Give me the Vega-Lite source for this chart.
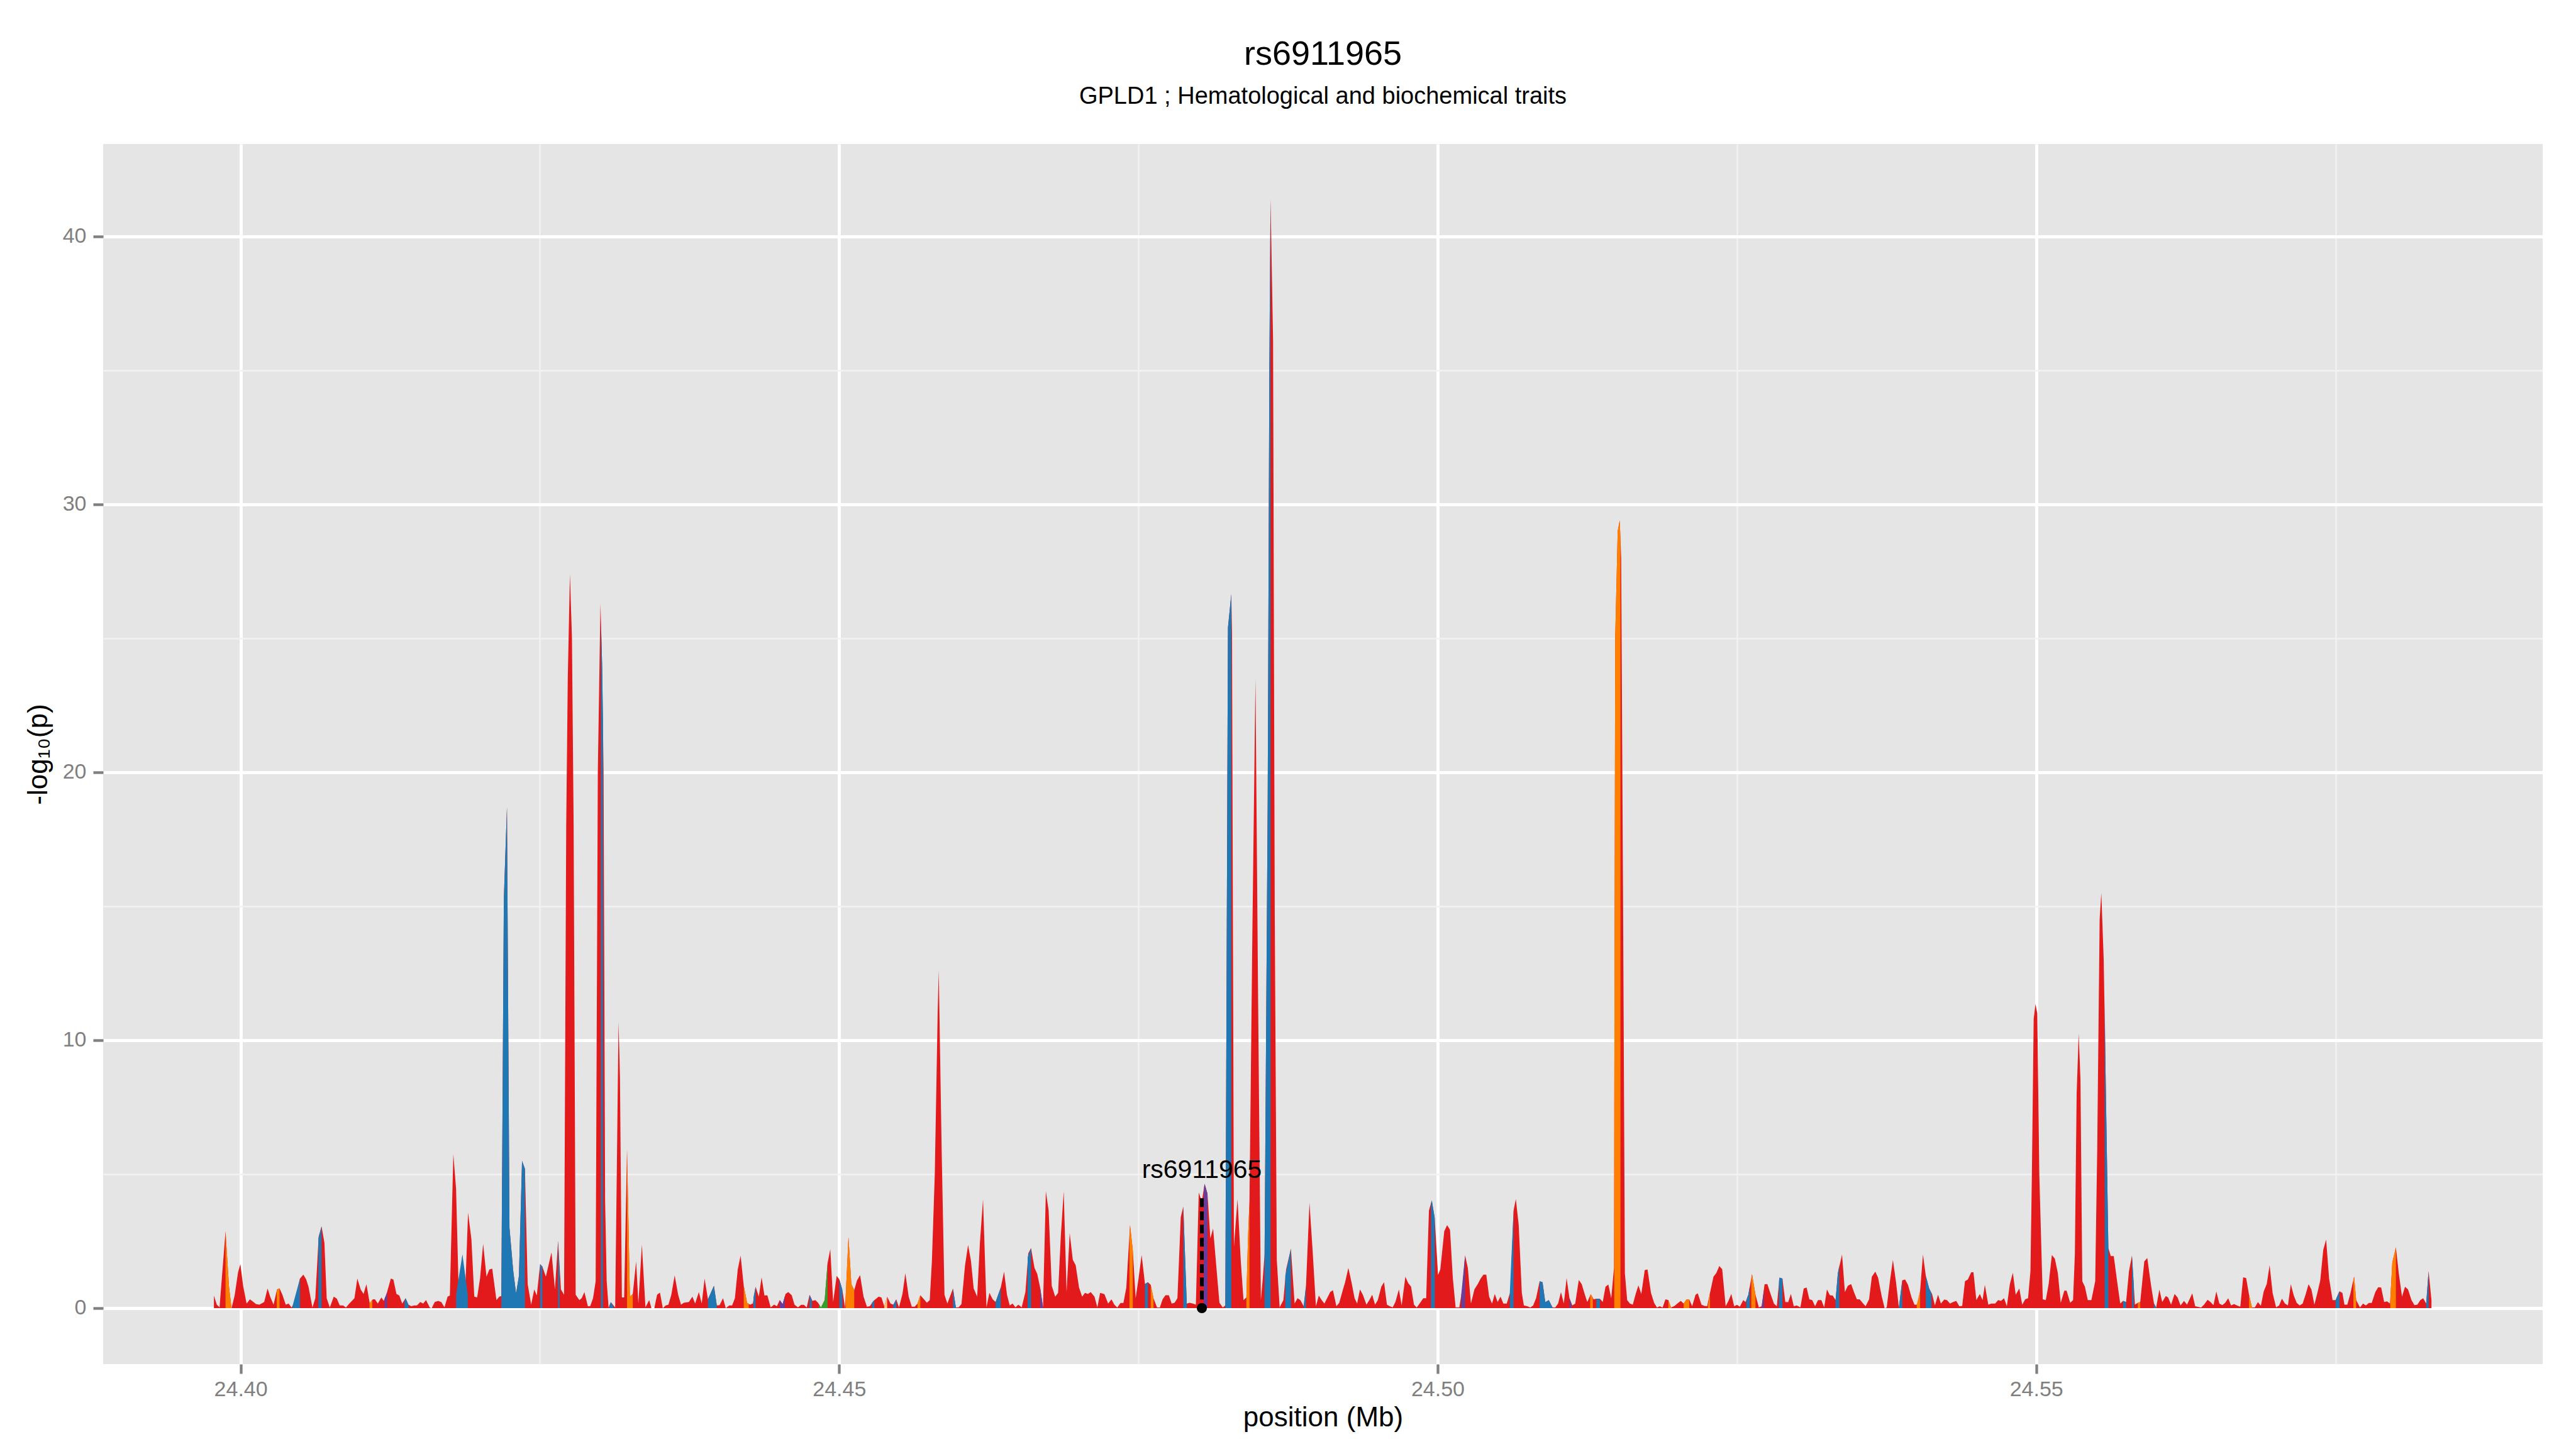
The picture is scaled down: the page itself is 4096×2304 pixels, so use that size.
{
"$schema": "https://vega.github.io/schema/vega-lite/v6.json",
"width": 3879,
"height": 1940,
"autosize": {"type": "none"},
"padding": {"left": 164, "top": 229, "right": 53, "bottom": 135},
"background": "#FFFFFF",
"title": {"text": "rs6911965", "subtitle": "GPLD1 ; Hematological and biochemical traits", "anchor": "middle", "font": "Liberation Sans", "fontSize": 54, "fontWeight": "normal", "color": "#000000", "subtitleFont": "Liberation Sans", "subtitleFontSize": 38, "subtitleColor": "#000000", "subtitlePadding": 21, "offset": 56},
"config": {"view": {"fill": "#E5E5E5", "stroke": null}, "font": "Liberation Sans"},
"datasets": {
"trace": [
{"pos":24.39777,"logp":0.47},{"pos":24.39801,"logp":0.13},{"pos":24.39824,"logp":0.03},{"pos":24.39841,"logp":1.0},{"pos":24.39874,"logp":2.87},{"pos":24.39903,"logp":0.8},{"pos":24.39924,"logp":0},{"pos":24.3995,"logp":0.47},{"pos":24.39979,"logp":1.35},{"pos":24.39998,"logp":1.64},{"pos":24.40021,"logp":0.83},{"pos":24.4005,"logp":0.17},{"pos":24.40078,"logp":0.33},{"pos":24.40109,"logp":0.22},{"pos":24.40128,"logp":0.15},{"pos":24.40157,"logp":0.13},{"pos":24.40197,"logp":0.23},{"pos":24.40225,"logp":0.73},{"pos":24.40247,"logp":0.43},{"pos":24.40275,"logp":0.13},{"pos":24.40304,"logp":0.69},{"pos":24.40325,"logp":0.74},{"pos":24.40349,"logp":0.5},{"pos":24.40377,"logp":0.13},{"pos":24.40401,"logp":0.17},{"pos":24.40425,"logp":0.02},{"pos":24.40453,"logp":0.23},{"pos":24.40496,"logp":1.1},{"pos":24.40524,"logp":1.25},{"pos":24.40548,"logp":1.07},{"pos":24.40567,"logp":0.8},{"pos":24.406,"logp":0.02},{"pos":24.40624,"logp":0.37},{"pos":24.40652,"logp":2.67},{"pos":24.40676,"logp":3.05},{"pos":24.407,"logp":2.44},{"pos":24.40719,"logp":0.37},{"pos":24.40745,"logp":0.02},{"pos":24.40778,"logp":0.43},{"pos":24.40804,"logp":0.35},{"pos":24.40828,"logp":0.1},{"pos":24.40856,"logp":0.1},{"pos":24.4088,"logp":0.02},{"pos":24.40908,"logp":0.17},{"pos":24.40951,"logp":0.37},{"pos":24.40975,"logp":1.1},{"pos":24.41003,"logp":0.7},{"pos":24.41027,"logp":0.53},{"pos":24.41051,"logp":0.89},{"pos":24.41079,"logp":0.17},{"pos":24.41105,"logp":0.33},{"pos":24.41122,"logp":0.33},{"pos":24.41146,"logp":0.17},{"pos":24.41176,"logp":0.4},{"pos":24.41195,"logp":0.27},{"pos":24.41217,"logp":0.5},{"pos":24.41255,"logp":1.1},{"pos":24.41276,"logp":1.07},{"pos":24.41302,"logp":0.53},{"pos":24.41326,"logp":0.47},{"pos":24.4135,"logp":0.17},{"pos":24.41378,"logp":0.37},{"pos":24.41402,"logp":0.13},{"pos":24.41426,"logp":0.07},{"pos":24.41449,"logp":0.1},{"pos":24.41473,"logp":0.1},{"pos":24.41501,"logp":0.23},{"pos":24.41525,"logp":0.17},{"pos":24.41549,"logp":0.3},{"pos":24.4158,"logp":0.02},{"pos":24.41596,"logp":0},{"pos":24.41622,"logp":0.23},{"pos":24.41651,"logp":0.27},{"pos":24.41677,"logp":0.22},{"pos":24.41703,"logp":0.03},{"pos":24.41729,"logp":0.43},{"pos":24.41748,"logp":0.47},{"pos":24.41777,"logp":5.75},{"pos":24.418,"logp":4.44},{"pos":24.41822,"logp":0.57},{"pos":24.41853,"logp":2.0},{"pos":24.41876,"logp":0.57},{"pos":24.419,"logp":3.57},{"pos":24.41928,"logp":2.57},{"pos":24.41952,"logp":0.43},{"pos":24.41976,"logp":0.4},{"pos":24.42,"logp":1.1},{"pos":24.42026,"logp":2.4},{"pos":24.42054,"logp":1.17},{"pos":24.42078,"logp":1.44},{"pos":24.42102,"logp":1.47},{"pos":24.42137,"logp":0.3},{"pos":24.42161,"logp":0.43},{"pos":24.42178,"logp":0.45},{"pos":24.42199,"logp":15.3},{"pos":24.42225,"logp":18.7},{"pos":24.42246,"logp":3.0},{"pos":24.42277,"logp":1.4},{"pos":24.42301,"logp":0.55},{"pos":24.42325,"logp":1.2},{"pos":24.42351,"logp":5.5},{"pos":24.42375,"logp":5.2},{"pos":24.42398,"logp":0.9},{"pos":24.42427,"logp":0.13},{"pos":24.42453,"logp":0.7},{"pos":24.42474,"logp":0.47},{"pos":24.42502,"logp":1.64},{"pos":24.42521,"logp":1.55},{"pos":24.4255,"logp":1.17},{"pos":24.42597,"logp":2.08},{"pos":24.42626,"logp":0.7},{"pos":24.42652,"logp":2.51},{"pos":24.42676,"logp":0.7},{"pos":24.42702,"logp":0.5},{"pos":24.4272,"logp":18.0},{"pos":24.42733,"logp":23.5},{"pos":24.42751,"logp":27.4},{"pos":24.42768,"logp":25.0},{"pos":24.42782,"logp":18.0},{"pos":24.42799,"logp":0.5},{"pos":24.4283,"logp":0.3},{"pos":24.42849,"logp":0.37},{"pos":24.42872,"logp":0.6},{"pos":24.42901,"logp":0.07},{"pos":24.4292,"logp":0.07},{"pos":24.42944,"logp":0.37},{"pos":24.42966,"logp":1.0},{"pos":24.42984,"logp":20.0},{"pos":24.43006,"logp":26.3},{"pos":24.4302,"logp":24.0},{"pos":24.43032,"logp":20.0},{"pos":24.43045,"logp":4.0},{"pos":24.43058,"logp":1.0},{"pos":24.43074,"logp":0.02},{"pos":24.43093,"logp":0.22},{"pos":24.43129,"logp":0.02},{"pos":24.43145,"logp":6.0},{"pos":24.43157,"logp":10.7},{"pos":24.43169,"logp":8.6},{"pos":24.43185,"logp":0.4},{"pos":24.43204,"logp":0.4},{"pos":24.43228,"logp":5.92},{"pos":24.43252,"logp":0.43},{"pos":24.43276,"logp":0.53},{"pos":24.43304,"logp":1.74},{"pos":24.43323,"logp":0.17},{"pos":24.43352,"logp":2.37},{"pos":24.43382,"logp":0.03},
{"pos":24.43413,"logp":0.3},{"pos":24.43432,"logp":0},{"pos":24.43456,"logp":0},{"pos":24.43479,"logp":0.5},{"pos":24.43503,"logp":0.58},{"pos":24.43527,"logp":0},{"pos":24.43551,"logp":0.1},{"pos":24.43574,"logp":0.13},{"pos":24.43598,"logp":0.5},{"pos":24.43626,"logp":1.22},{"pos":24.43655,"logp":0.5},{"pos":24.43679,"logp":0.13},{"pos":24.43702,"logp":0.2},{"pos":24.43745,"logp":0.23},{"pos":24.43774,"logp":0.43},{"pos":24.43797,"logp":0.17},{"pos":24.43828,"logp":0.6},{"pos":24.43852,"logp":0.17},{"pos":24.43876,"logp":1.1},{"pos":24.43904,"logp":0.33},{"pos":24.43954,"logp":0.83},{"pos":24.43978,"logp":0.1},{"pos":24.44001,"logp":0.11},{"pos":24.4403,"logp":0.37},{"pos":24.44053,"logp":0},{"pos":24.44082,"logp":0.1},{"pos":24.44106,"logp":0.1},{"pos":24.44129,"logp":0.37},{"pos":24.44153,"logp":1.44},{"pos":24.44177,"logp":1.96},{"pos":24.44203,"logp":0.83},{"pos":24.44231,"logp":0.2},{"pos":24.44255,"logp":0.13},{"pos":24.44279,"logp":0.17},{"pos":24.44302,"logp":0.8},{"pos":24.44329,"logp":0.43},{"pos":24.44352,"logp":1.15},{"pos":24.44376,"logp":0.47},{"pos":24.444,"logp":0.48},{"pos":24.44428,"logp":0.03},{"pos":24.44457,"logp":0.13},{"pos":24.4448,"logp":0.07},{"pos":24.44504,"logp":0.3},{"pos":24.44528,"logp":0.15},{"pos":24.44552,"logp":0.53},{"pos":24.44575,"logp":0.6},{"pos":24.44604,"logp":0.48},{"pos":24.44627,"logp":0.13},{"pos":24.44656,"logp":0.03},{"pos":24.44682,"logp":0.12},{"pos":24.44706,"logp":0.12},{"pos":24.44729,"logp":0.02},{"pos":24.44753,"logp":0.5},{"pos":24.44777,"logp":0.27},{"pos":24.44801,"logp":0.3},{"pos":24.44824,"logp":0.2},{"pos":24.44848,"logp":0.02},{"pos":24.44879,"logp":0.3},{"pos":24.44903,"logp":1.67},{"pos":24.44926,"logp":2.2},{"pos":24.4495,"logp":0.23},{"pos":24.44979,"logp":1.2},{"pos":24.45002,"logp":1.07},{"pos":24.45026,"logp":0.7},{"pos":24.4505,"logp":0},{"pos":24.45078,"logp":2.65},{"pos":24.45102,"logp":0.9},{"pos":24.45126,"logp":0.67},{"pos":24.45149,"logp":1.03},{"pos":24.45175,"logp":1.23},{"pos":24.45204,"logp":0.43},{"pos":24.45232,"logp":0.05},{"pos":24.45256,"logp":0.07},{"pos":24.45287,"logp":0.27},{"pos":24.4533,"logp":0.43},{"pos":24.45353,"logp":0.4},{"pos":24.45377,"logp":0.07},{"pos":24.45401,"logp":0.43},{"pos":24.45429,"logp":0.17},{"pos":24.45453,"logp":0.13},{"pos":24.45477,"logp":0.33},{"pos":24.455,"logp":0.03},{"pos":24.45529,"logp":0.53},{"pos":24.45553,"logp":1.3},{"pos":24.45581,"logp":0.43},{"pos":24.45607,"logp":0.05},{"pos":24.45631,"logp":0.05},{"pos":24.45655,"logp":0.17},{"pos":24.45678,"logp":0.48},{"pos":24.45709,"logp":0.33},{"pos":24.45733,"logp":0.2},{"pos":24.45757,"logp":0.3},{"pos":24.45775,"logp":1.77},{"pos":24.45799,"logp":5.0},{"pos":24.45823,"logp":11.0},{"pos":24.45832,"logp":12.6},{"pos":24.45856,"logp":6.0},{"pos":24.4588,"logp":0.5},{"pos":24.45904,"logp":0.17},{"pos":24.45951,"logp":0.73},{"pos":24.45975,"logp":0.03},{"pos":24.45998,"logp":0.03},{"pos":24.46022,"logp":0.15},{"pos":24.46051,"logp":1.57},{"pos":24.46077,"logp":2.36},{"pos":24.46101,"logp":1.77},{"pos":24.46124,"logp":0.73},{"pos":24.46153,"logp":0.43},{"pos":24.46176,"logp":2.44},{"pos":24.46202,"logp":4.06},{"pos":24.46231,"logp":0.03},{"pos":24.46255,"logp":0.57},{"pos":24.46283,"logp":0.33},{"pos":24.46307,"logp":0.23},{"pos":24.4635,"logp":0.77},{"pos":24.46378,"logp":1.36},{"pos":24.46402,"logp":0.5},{"pos":24.46425,"logp":0.1},{"pos":24.46449,"logp":0.17},{"pos":24.46473,"logp":0.03},{"pos":24.46497,"logp":0.13},{"pos":24.46525,"logp":0.03},{"pos":24.46556,"logp":0.6},{"pos":24.4658,"logp":2.04},{"pos":24.46603,"logp":2.24},{"pos":24.46632,"logp":1.5},{"pos":24.46655,"logp":1.27},{"pos":24.46679,"logp":0.77},{"pos":24.46703,"logp":0.03},{"pos":24.46727,"logp":4.36},{"pos":24.4675,"logp":3.64},{"pos":24.46776,"logp":0.83},{"pos":24.46805,"logp":0.43},{"pos":24.46829,"logp":0.57},{"pos":24.46852,"logp":2.7},{"pos":24.46876,"logp":4.36},{"pos":24.469,"logp":0.6},{"pos":24.46926,"logp":2.8},{"pos":24.46952,"logp":1.8},{"pos":24.46976,"logp":1.6},{"pos":24.47004,"logp":0.77},{"pos":24.4703,"logp":0.43},{"pos":24.47054,"logp":0.57},{"pos":24.47078,"logp":0.53},{"pos":24.47102,"logp":0.6},
{"pos":24.47133,"logp":0.43},{"pos":24.47157,"logp":0.03},{"pos":24.4718,"logp":0.57},{"pos":24.47216,"logp":0.52},{"pos":24.47247,"logp":0.17},{"pos":24.47275,"logp":0.33},{"pos":24.47299,"logp":0.13},{"pos":24.47323,"logp":0.02},{"pos":24.47351,"logp":0.19},{"pos":24.47375,"logp":0.19},{"pos":24.47399,"logp":0.77},{"pos":24.4743,"logp":3.1},{"pos":24.47453,"logp":2.17},{"pos":24.47477,"logp":0.37},{"pos":24.47501,"logp":1.1},{"pos":24.47527,"logp":1.98},{"pos":24.47555,"logp":0.9},{"pos":24.47579,"logp":0.97},{"pos":24.47603,"logp":0.87},{"pos":24.47626,"logp":0.37},{"pos":24.47655,"logp":0.03},{"pos":24.47679,"logp":0.02},{"pos":24.47702,"logp":0.33},{"pos":24.47726,"logp":0.48},{"pos":24.47754,"logp":0.48},{"pos":24.47778,"logp":0.17},{"pos":24.47802,"logp":0.2},{"pos":24.47826,"logp":0.37},{"pos":24.47854,"logp":3.4},{"pos":24.47875,"logp":3.79},{"pos":24.47904,"logp":0.17},{"pos":24.47928,"logp":0.2},{"pos":24.47956,"logp":0.17},{"pos":24.4798,"logp":0.13},{"pos":24.48004,"logp":4.31},{"pos":24.4803,"logp":3.98},{"pos":24.48053,"logp":4.64},{"pos":24.48077,"logp":4.27},{"pos":24.48101,"logp":2.6},{"pos":24.48124,"logp":2.97},{"pos":24.48153,"logp":1.44},{"pos":24.48177,"logp":0.2},{"pos":24.48205,"logp":0.02},{"pos":24.48226,"logp":0.1},{"pos":24.48248,"logp":25.4},{"pos":24.48276,"logp":26.65},{"pos":24.48282,"logp":25.2},{"pos":24.48298,"logp":2.3},{"pos":24.48328,"logp":4.07},{"pos":24.48355,"logp":1.77},{"pos":24.48378,"logp":0.3},{"pos":24.48402,"logp":0.4},{"pos":24.48416,"logp":2.7},{"pos":24.48428,"logp":4.0},{"pos":24.48452,"logp":14.0},{"pos":24.48478,"logp":23.5},{"pos":24.48499,"logp":12.0},{"pos":24.48523,"logp":0.3},{"pos":24.48537,"logp":1.0},{"pos":24.48554,"logp":2.0},{"pos":24.4858,"logp":18.9},{"pos":24.48594,"logp":35.2},{"pos":24.48604,"logp":41.4},{"pos":24.48625,"logp":36.1},{"pos":24.48639,"logp":14.7},{"pos":24.48656,"logp":1.8},{"pos":24.4868,"logp":0.03},{"pos":24.48711,"logp":0.3},{"pos":24.48734,"logp":1.44},{"pos":24.48774,"logp":2.22},{"pos":24.48805,"logp":0.17},{"pos":24.48829,"logp":0.37},{"pos":24.48853,"logp":0.3},{"pos":24.48881,"logp":0.07},{"pos":24.489,"logp":0.83},{"pos":24.48929,"logp":3.93},{"pos":24.48955,"logp":2.17},{"pos":24.48983,"logp":0.07},{"pos":24.49007,"logp":0.47},{"pos":24.49031,"logp":0.3},{"pos":24.49054,"logp":0.17},{"pos":24.49083,"logp":0.43},{"pos":24.49102,"logp":0.6},{"pos":24.49125,"logp":0.67},{"pos":24.49154,"logp":0.07},{"pos":24.49178,"logp":0.2},{"pos":24.49209,"logp":0.7},{"pos":24.49227,"logp":0.97},{"pos":24.49254,"logp":1.5},{"pos":24.4928,"logp":0.97},{"pos":24.49306,"logp":0.37},{"pos":24.49327,"logp":0.17},{"pos":24.49351,"logp":0.7},{"pos":24.49375,"logp":0.5},{"pos":24.49405,"logp":0.13},{"pos":24.49429,"logp":0.3},{"pos":24.49453,"logp":0.5},{"pos":24.49477,"logp":0.13},{"pos":24.495,"logp":0.3},{"pos":24.49529,"logp":0.8},{"pos":24.49552,"logp":0.97},{"pos":24.49576,"logp":0.13},{"pos":24.496,"logp":0.07},{"pos":24.49624,"logp":0.03},{"pos":24.49647,"logp":0.23},{"pos":24.49676,"logp":0.7},{"pos":24.49699,"logp":0.1},{"pos":24.4973,"logp":1.17},{"pos":24.49754,"logp":0.93},{"pos":24.49778,"logp":0.8},{"pos":24.49802,"logp":0.13},{"pos":24.49825,"logp":0.02},{"pos":24.49849,"logp":0.17},{"pos":24.4988,"logp":0.37},{"pos":24.49904,"logp":0.37},{"pos":24.49927,"logp":3.64},{"pos":24.49951,"logp":4.02},{"pos":24.49975,"logp":3.37},{"pos":24.50003,"logp":1.24},{"pos":24.50022,"logp":1.44},{"pos":24.50055,"logp":2.87},{"pos":24.50079,"logp":3.1},{"pos":24.50103,"logp":2.92},{"pos":24.50127,"logp":1.1},{"pos":24.5015,"logp":0.03},{"pos":24.50181,"logp":0.03},{"pos":24.50207,"logp":0.77},{"pos":24.50229,"logp":1.97},{"pos":24.50252,"logp":1.5},{"pos":24.50278,"logp":0.17},{"pos":24.50307,"logp":0.7},{"pos":24.50335,"logp":0.9},{"pos":24.50359,"logp":1.1},{"pos":24.50383,"logp":1.25},{"pos":24.50406,"logp":1.25},{"pos":24.5043,"logp":0.43},{"pos":24.50454,"logp":0.17},{"pos":24.50477,"logp":0.53},{"pos":24.50501,"logp":0.23},{"pos":24.50525,"logp":0.43},{"pos":24.50549,"logp":0.17},{"pos":24.50577,"logp":0.17},{"pos":24.50608,"logp":0.63},{"pos":24.50634,"logp":3.64},{"pos":24.50653,"logp":4.07},{"pos":24.50677,"logp":3.1},{"pos":24.50703,"logp":0.57},{"pos":24.5072,"logp":0.1},{"pos":24.5075,"logp":0.07},{"pos":24.50774,"logp":0.02},{"pos":24.50798,"logp":0.1},{"pos":24.50822,"logp":0.37},
{"pos":24.50852,"logp":1.0},{"pos":24.50876,"logp":0.97},{"pos":24.50899,"logp":0.22},{"pos":24.50928,"logp":0.3},{"pos":24.50959,"logp":0.03},{"pos":24.50982,"logp":0.02},{"pos":24.51006,"logp":0.17},{"pos":24.5103,"logp":0.6},{"pos":24.51054,"logp":0.17},{"pos":24.51077,"logp":1.12},{"pos":24.51101,"logp":0.37},{"pos":24.51125,"logp":0.1},{"pos":24.51149,"logp":0.17},{"pos":24.51179,"logp":1.05},{"pos":24.51203,"logp":0.9},{"pos":24.51232,"logp":0.47},{"pos":24.5125,"logp":0.23},{"pos":24.51279,"logp":0.52},{"pos":24.51303,"logp":0.33},{"pos":24.51326,"logp":0.35},{"pos":24.51355,"logp":0.35},{"pos":24.51379,"logp":0.23},{"pos":24.51402,"logp":0.8},{"pos":24.51426,"logp":0.88},{"pos":24.5145,"logp":0.37},{"pos":24.51473,"logp":1.5},{"pos":24.51483,"logp":25.0},{"pos":24.51504,"logp":29.0},{"pos":24.51521,"logp":29.4},{"pos":24.51533,"logp":28.0},{"pos":24.51549,"logp":15.0},{"pos":24.51564,"logp":1.3},{"pos":24.51583,"logp":0.3},{"pos":24.51606,"logp":0.17},{"pos":24.5163,"logp":0.13},{"pos":24.51654,"logp":0.53},{"pos":24.51677,"logp":0.85},{"pos":24.51701,"logp":0.53},{"pos":24.5173,"logp":1.42},{"pos":24.51753,"logp":1.44},{"pos":24.51782,"logp":0.57},{"pos":24.51808,"logp":0.2},{"pos":24.51832,"logp":0.02},{"pos":24.51855,"logp":0.07},{"pos":24.51879,"logp":0.02},{"pos":24.51903,"logp":0.33},{"pos":24.51927,"logp":0.3},{"pos":24.5195,"logp":0.02},{"pos":24.51979,"logp":0.08},{"pos":24.52002,"logp":0.17},{"pos":24.52031,"logp":0.27},{"pos":24.52055,"logp":0.17},{"pos":24.52078,"logp":0.32},{"pos":24.52102,"logp":0.32},{"pos":24.52126,"logp":0.07},{"pos":24.52154,"logp":0.5},{"pos":24.52173,"logp":0.55},{"pos":24.52204,"logp":0.13},{"pos":24.52228,"logp":0.08},{"pos":24.52251,"logp":0.07},{"pos":24.52275,"logp":0.57},{"pos":24.52304,"logp":1.17},{"pos":24.52327,"logp":1.3},{"pos":24.52353,"logp":1.57},{"pos":24.52377,"logp":1.45},{"pos":24.52406,"logp":0.07},{"pos":24.52429,"logp":0.27},{"pos":24.52453,"logp":0.53},{"pos":24.52477,"logp":0.07},{"pos":24.52501,"logp":0.12},{"pos":24.52524,"logp":0.05},{"pos":24.52553,"logp":0.3},{"pos":24.52572,"logp":0.23},{"pos":24.52595,"logp":0.5},{"pos":24.52626,"logp":1.27},{"pos":24.52655,"logp":0.5},{"pos":24.52683,"logp":0.03},{"pos":24.52707,"logp":0.07},{"pos":24.52731,"logp":0.89},{"pos":24.52754,"logp":0.9},{"pos":24.52778,"logp":0.57},{"pos":24.52809,"logp":0.17},{"pos":24.52833,"logp":0.07},{"pos":24.52856,"logp":1.14},{"pos":24.5288,"logp":1.1},{"pos":24.52904,"logp":0.23},{"pos":24.52928,"logp":0.22},{"pos":24.52951,"logp":0.53},{"pos":24.52975,"logp":0.07},{"pos":24.52999,"logp":0.1},{"pos":24.5303,"logp":0.03},{"pos":24.53058,"logp":0.73},{"pos":24.53082,"logp":0.77},{"pos":24.53105,"logp":0.33},{"pos":24.53129,"logp":0.3},{"pos":24.53153,"logp":0.07},{"pos":24.53177,"logp":0.3},{"pos":24.53205,"logp":0.3},{"pos":24.53229,"logp":0.03},{"pos":24.53252,"logp":0.7},{"pos":24.53276,"logp":0.48},{"pos":24.533,"logp":0.47},{"pos":24.53324,"logp":0.3},{"pos":24.53343,"logp":1.3},{"pos":24.53378,"logp":2.0},{"pos":24.53402,"logp":0.6},{"pos":24.53426,"logp":0.83},{"pos":24.53454,"logp":0.9},{"pos":24.53478,"logp":0.6},{"pos":24.53502,"logp":0.33},{"pos":24.53525,"logp":0.33},{"pos":24.53549,"logp":0.2},{"pos":24.53575,"logp":0.07},{"pos":24.53604,"logp":0.33},{"pos":24.53627,"logp":1.17},{"pos":24.53656,"logp":1.36},{"pos":24.53679,"logp":1.14},{"pos":24.5371,"logp":0.43},{"pos":24.53734,"logp":0},{"pos":24.53751,"logp":0.02},{"pos":24.53777,"logp":0.97},{"pos":24.53803,"logp":1.8},{"pos":24.53829,"logp":0.97},{"pos":24.53853,"logp":0.02},{"pos":24.53881,"logp":1.04},{"pos":24.53905,"logp":1.07},{"pos":24.53929,"logp":0.87},{"pos":24.53959,"logp":0.4},{"pos":24.53983,"logp":0.13},{"pos":24.54007,"logp":0.13},{"pos":24.5403,"logp":0.63},{"pos":24.54054,"logp":2.0},{"pos":24.54078,"logp":1.2},{"pos":24.54106,"logp":0.73},{"pos":24.5413,"logp":0.53},{"pos":24.54154,"logp":0.1},{"pos":24.5418,"logp":0.5},{"pos":24.54204,"logp":0.17},{"pos":24.54232,"logp":0.32},{"pos":24.54256,"logp":0.29},{"pos":24.5428,"logp":0.17},{"pos":24.54303,"logp":0.22},{"pos":24.54332,"logp":0.27},{"pos":24.54358,"logp":0.07},{"pos":24.54382,"logp":0.08},{"pos":24.54405,"logp":1.0},{"pos":24.54429,"logp":1.07},{"pos":24.54457,"logp":1.34},{"pos":24.54476,"logp":1.34},{"pos":24.545,"logp":0.3},{"pos":24.54529,"logp":0.53},{"pos":24.54552,"logp":0.3},
{"pos":24.54571,"logp":0.87},{"pos":24.546,"logp":0.13},{"pos":24.54625,"logp":0.17},{"pos":24.54657,"logp":0.17},{"pos":24.54682,"logp":0.3},{"pos":24.54706,"logp":0.27},{"pos":24.54731,"logp":0.37},{"pos":24.54755,"logp":0.07},{"pos":24.5478,"logp":0.9},{"pos":24.54805,"logp":1.32},{"pos":24.54829,"logp":0.5},{"pos":24.54859,"logp":0.73},{"pos":24.54883,"logp":0.13},{"pos":24.54908,"logp":0.33},{"pos":24.54932,"logp":0.37},{"pos":24.54952,"logp":1.37},{"pos":24.54964,"logp":5.0},{"pos":24.54979,"logp":10.8},{"pos":24.54994,"logp":11.35},{"pos":24.55009,"logp":11.0},{"pos":24.55026,"logp":5.0},{"pos":24.55055,"logp":0.33},{"pos":24.5508,"logp":0.3},{"pos":24.55104,"logp":0.9},{"pos":24.55131,"logp":1.98},{"pos":24.55156,"logp":1.84},{"pos":24.55181,"logp":1.3},{"pos":24.55205,"logp":0.2},{"pos":24.55235,"logp":0.65},{"pos":24.55254,"logp":0.65},{"pos":24.55284,"logp":0.2},{"pos":24.55308,"logp":0.3},{"pos":24.55323,"logp":2.0},{"pos":24.55338,"logp":8.0},{"pos":24.55355,"logp":10.25},{"pos":24.5537,"logp":8.5},{"pos":24.55385,"logp":1.0},{"pos":24.55407,"logp":0.8},{"pos":24.55431,"logp":0.3},{"pos":24.55461,"logp":0.3},{"pos":24.55493,"logp":1.0},{"pos":24.5551,"logp":6.0},{"pos":24.5553,"logp":14.5},{"pos":24.55544,"logp":15.5},{"pos":24.55564,"logp":13.0},{"pos":24.55579,"logp":9.0},{"pos":24.55603,"logp":2.24},{"pos":24.55623,"logp":1.94},{"pos":24.55648,"logp":1.94},{"pos":24.55677,"logp":0.97},{"pos":24.55702,"logp":0.17},{"pos":24.55726,"logp":0.27},{"pos":24.55751,"logp":0.23},{"pos":24.55775,"logp":1.37},{"pos":24.558,"logp":1.96},{"pos":24.55825,"logp":0.13},{"pos":24.55849,"logp":0.2},{"pos":24.55869,"logp":0.23},{"pos":24.55903,"logp":1.74},{"pos":24.55928,"logp":1.87},{"pos":24.5596,"logp":0.83},{"pos":24.55984,"logp":0.17},{"pos":24.56002,"logp":0.02},{"pos":24.56029,"logp":0.69},{"pos":24.56053,"logp":0.23},{"pos":24.56083,"logp":0.45},{"pos":24.56102,"logp":0.4},{"pos":24.56127,"logp":0.13},{"pos":24.56156,"logp":0.53},{"pos":24.56181,"logp":0.4},{"pos":24.56206,"logp":0.1},{"pos":24.56235,"logp":0.27},{"pos":24.5626,"logp":0.13},{"pos":24.56304,"logp":0.55},{"pos":24.56328,"logp":0.07},{"pos":24.56378,"logp":0.02},{"pos":24.56402,"logp":0.13},{"pos":24.56432,"logp":0.31},{"pos":24.56456,"logp":0.23},{"pos":24.56481,"logp":0.11},{"pos":24.56505,"logp":0.62},{"pos":24.5653,"logp":0.17},{"pos":24.56555,"logp":0.11},{"pos":24.56579,"logp":0.2},{"pos":24.56604,"logp":0.37},{"pos":24.56628,"logp":0.1},{"pos":24.56653,"logp":0.15},{"pos":24.56677,"logp":0.1},{"pos":24.56705,"logp":0.05},{"pos":24.56729,"logp":1.15},{"pos":24.56754,"logp":1.12},{"pos":24.56778,"logp":0.5},{"pos":24.56803,"logp":0.02},{"pos":24.56827,"logp":0.03},{"pos":24.56852,"logp":0.22},{"pos":24.56877,"logp":0.09},{"pos":24.56901,"logp":0.63},{"pos":24.56926,"logp":0.9},{"pos":24.5695,"logp":1.6},{"pos":24.56975,"logp":0.57},{"pos":24.57004,"logp":0.03},{"pos":24.57029,"logp":0.1},{"pos":24.57053,"logp":0.35},{"pos":24.57078,"logp":0.17},{"pos":24.57103,"logp":0.1},{"pos":24.57127,"logp":0.89},{"pos":24.57152,"logp":0.47},{"pos":24.57176,"logp":0.2},{"pos":24.57201,"logp":0.1},{"pos":24.57226,"logp":0.17},{"pos":24.5725,"logp":0.5},{"pos":24.57275,"logp":0.89},{"pos":24.57299,"logp":0.7},{"pos":24.57324,"logp":0.13},{"pos":24.57349,"logp":0.57},{"pos":24.57373,"logp":1.03},{"pos":24.57398,"logp":2.17},{"pos":24.57422,"logp":2.56},{"pos":24.57447,"logp":1.1},{"pos":24.57476,"logp":0.3},{"pos":24.57501,"logp":0.3},{"pos":24.57533,"logp":0.63},{"pos":24.57558,"logp":0.57},{"pos":24.57575,"logp":0.13},{"pos":24.57599,"logp":0.13},{"pos":24.57624,"logp":0.53},{"pos":24.57656,"logp":1.18},{"pos":24.57673,"logp":0.3},{"pos":24.57705,"logp":0.02},{"pos":24.5773,"logp":0.17},{"pos":24.57754,"logp":0.1},{"pos":24.57779,"logp":0.19},{"pos":24.57803,"logp":0.19},{"pos":24.57833,"logp":0.6},{"pos":24.57857,"logp":0.78},{"pos":24.57882,"logp":0.77},{"pos":24.57907,"logp":0.23},{"pos":24.57931,"logp":0.25},{"pos":24.57956,"logp":0.17},{"pos":24.57975,"logp":1.7},{"pos":24.58005,"logp":2.27},{"pos":24.58029,"logp":1.3},{"pos":24.58056,"logp":0.43},{"pos":24.58081,"logp":0.8},{"pos":24.58106,"logp":0.7},{"pos":24.58135,"logp":0.3},{"pos":24.5816,"logp":0.11},{"pos":24.58184,"logp":0.13},{"pos":24.58209,"logp":0.3},{"pos":24.58233,"logp":0.37},{"pos":24.58258,"logp":0.17},{"pos":24.58278,"logp":1.38},{"pos":24.58302,"logp":0.3}
],
"overlay": [
{"pos":24.39874,"logp":2.87,"trait":"orange","seg":"o1"},{"pos":24.39903,"logp":0.8,"trait":"orange","seg":"o1"},{"pos":24.39924,"logp":0,"trait":"orange","seg":"o1"},
{"pos":24.40302,"logp":0.66,"trait":"orange","seg":"o2"},{"pos":24.40325,"logp":0.74,"trait":"orange","seg":"o2"},
{"pos":24.40434,"logp":0.08,"trait":"blue","seg":"b1"},{"pos":24.40496,"logp":1.1,"trait":"blue","seg":"b1"},
{"pos":24.4065,"logp":2.6,"trait":"blue","seg":"b2"},{"pos":24.40676,"logp":3.05,"trait":"blue","seg":"b2"},
{"pos":24.41077,"logp":0.18,"trait":"orange","seg":"o3"},{"pos":24.411,"logp":0.32,"trait":"orange","seg":"o3"},
{"pos":24.41203,"logp":0.35,"trait":"purple","seg":"p1"},{"pos":24.41224,"logp":0.6,"trait":"purple","seg":"p1"},
{"pos":24.41369,"logp":0.25,"trait":"blue","seg":"b3"},{"pos":24.41378,"logp":0.37,"trait":"blue","seg":"b3"},{"pos":24.41402,"logp":0.13,"trait":"blue","seg":"b3"},
{"pos":24.418,"logp":0.5,"trait":"blue","seg":"b4"},{"pos":24.41853,"logp":2.0,"trait":"blue","seg":"b4"},{"pos":24.41898,"logp":0.5,"trait":"blue","seg":"b4"},
{"pos":24.42178,"logp":0.45,"trait":"blue","seg":"b5"},{"pos":24.42199,"logp":15.3,"trait":"blue","seg":"b5"},{"pos":24.42225,"logp":18.7,"trait":"blue","seg":"b5"},{"pos":24.42246,"logp":3.0,"trait":"blue","seg":"b5"},{"pos":24.42277,"logp":1.4,"trait":"blue","seg":"b5"},{"pos":24.42301,"logp":0.55,"trait":"blue","seg":"b5"},{"pos":24.42325,"logp":1.2,"trait":"blue","seg":"b5"},{"pos":24.42351,"logp":5.5,"trait":"blue","seg":"b5"},{"pos":24.42375,"logp":5.2,"trait":"blue","seg":"b5"},
{"pos":24.42502,"logp":1.64,"trait":"blue","seg":"b6"},{"pos":24.42521,"logp":1.55,"trait":"blue","seg":"b6"},
{"pos":24.42652,"logp":2.51,"trait":"blue","seg":"b7"},{"pos":24.42665,"logp":1.3,"trait":"blue","seg":"b7"},
{"pos":24.4301,"logp":25.6,"trait":"blue","seg":"b8"},{"pos":24.4302,"logp":24.0,"trait":"blue","seg":"b8"},{"pos":24.43027,"logp":22.0,"trait":"blue","seg":"b8"},
{"pos":24.43081,"logp":0.1,"trait":"blue","seg":"b9"},{"pos":24.43093,"logp":0.22,"trait":"blue","seg":"b9"},{"pos":24.43115,"logp":0.05,"trait":"blue","seg":"b9"},
{"pos":24.43228,"logp":5.92,"trait":"orange","seg":"o4"},{"pos":24.43252,"logp":0.43,"trait":"orange","seg":"o4"},{"pos":24.43276,"logp":0.53,"trait":"orange","seg":"o4"},
{"pos":24.43904,"logp":0.33,"trait":"blue","seg":"b10"},{"pos":24.43954,"logp":0.83,"trait":"blue","seg":"b10"},{"pos":24.43978,"logp":0.1,"trait":"blue","seg":"b10"},
{"pos":24.44203,"logp":0.83,"trait":"orange","seg":"o5"},{"pos":24.44231,"logp":0.2,"trait":"orange","seg":"o5"},{"pos":24.44245,"logp":0.15,"trait":"orange","seg":"o5"},
{"pos":24.44284,"logp":0.4,"trait":"blue","seg":"b11"},{"pos":24.44302,"logp":0.8,"trait":"blue","seg":"b11"},
{"pos":24.44504,"logp":0.3,"trait":"purple","seg":"p2"},{"pos":24.44528,"logp":0.15,"trait":"purple","seg":"p2"},{"pos":24.44547,"logp":0.45,"trait":"purple","seg":"p2"},
{"pos":24.44753,"logp":0.5,"trait":"blue","seg":"b12"},{"pos":24.44772,"logp":0.3,"trait":"blue","seg":"b12"},
{"pos":24.44831,"logp":0.15,"trait":"green","seg":"g1"},{"pos":24.44848,"logp":0.02,"trait":"green","seg":"g1"},{"pos":24.44879,"logp":0.3,"trait":"green","seg":"g1"},{"pos":24.44903,"logp":1.67,"trait":"green","seg":"g1"},
{"pos":24.45002,"logp":1.07,"trait":"blue","seg":"b13"},{"pos":24.45026,"logp":0.7,"trait":"blue","seg":"b13"},
{"pos":24.45055,"logp":0.5,"trait":"orange","seg":"o6"},{"pos":24.45078,"logp":2.65,"trait":"orange","seg":"o6"},{"pos":24.45102,"logp":0.9,"trait":"orange","seg":"o6"},{"pos":24.45126,"logp":0.67,"trait":"orange","seg":"o6"},
{"pos":24.45275,"logp":0.2,"trait":"blue","seg":"b14"},{"pos":24.45294,"logp":0.3,"trait":"blue","seg":"b14"},
{"pos":24.45377,"logp":0.07,"trait":"lightorange","seg":"lo1"},{"pos":24.45401,"logp":0.43,"trait":"lightorange","seg":"lo1"},
{"pos":24.45453,"logp":0.13,"trait":"blue","seg":"b15"},{"pos":24.45477,"logp":0.33,"trait":"blue","seg":"b15"},
{"pos":24.45655,"logp":0.17,"trait":"orange","seg":"o7"},{"pos":24.45678,"logp":0.48,"trait":"orange","seg":"o7"},
{"pos":24.45951,"logp":0.73,"trait":"blue","seg":"b16"},{"pos":24.45975,"logp":0.03,"trait":"blue","seg":"b16"},
{"pos":24.46307,"logp":0.23,"trait":"blue","seg":"b17"},{"pos":24.4635,"logp":0.77,"trait":"blue","seg":"b17"},
{"pos":24.46575,"logp":1.9,"trait":"blue","seg":"b18"},{"pos":24.46603,"logp":2.24,"trait":"blue","seg":"b18"},
{"pos":24.46679,"logp":0.77,"trait":"purple","seg":"p3"},{"pos":24.46703,"logp":0.03,"trait":"purple","seg":"p3"},
{"pos":24.47425,"logp":2.5,"trait":"orange","seg":"o8"},{"pos":24.4743,"logp":3.1,"trait":"orange","seg":"o8"},{"pos":24.47453,"logp":2.17,"trait":"orange","seg":"o8"},
{"pos":24.47555,"logp":0.9,"trait":"blue","seg":"b19"},{"pos":24.47579,"logp":0.97,"trait":"blue","seg":"b19"},
{"pos":24.47603,"logp":0.87,"trait":"orange","seg":"o9"},{"pos":24.47626,"logp":0.37,"trait":"orange","seg":"o9"},
{"pos":24.47875,"logp":3.79,"trait":"blue","seg":"b20"},{"pos":24.47904,"logp":0.17,"trait":"blue","seg":"b20"},
{"pos":24.48046,"logp":4.4,"trait":"purple","seg":"p4"},{"pos":24.48053,"logp":4.64,"trait":"purple","seg":"p4"},{"pos":24.48077,"logp":4.27,"trait":"purple","seg":"p4"},
{"pos":24.48226,"logp":0.1,"trait":"blue","seg":"b21"},{"pos":24.48248,"logp":25.4,"trait":"blue","seg":"b21"},{"pos":24.48276,"logp":26.65,"trait":"blue","seg":"b21"},
{"pos":24.48402,"logp":0.4,"trait":"orange","seg":"o10"},{"pos":24.48416,"logp":2.7,"trait":"orange","seg":"o10"},{"pos":24.48428,"logp":4.0,"trait":"orange","seg":"o10"},
{"pos":24.48554,"logp":2.0,"trait":"blue","seg":"b22"},{"pos":24.4858,"logp":18.9,"trait":"blue","seg":"b22"},{"pos":24.48594,"logp":35.2,"trait":"blue","seg":"b22"},{"pos":24.48604,"logp":41.4,"trait":"blue","seg":"b22"},
{"pos":24.48727,"logp":1.2,"trait":"blue","seg":"b23"},{"pos":24.48774,"logp":2.22,"trait":"blue","seg":"b23"},
{"pos":24.48881,"logp":0.07,"trait":"blue","seg":"b24"},{"pos":24.489,"logp":0.83,"trait":"blue","seg":"b24"},
{"pos":24.49944,"logp":3.9,"trait":"blue","seg":"b25"},{"pos":24.49951,"logp":4.02,"trait":"blue","seg":"b25"},{"pos":24.49975,"logp":3.37,"trait":"blue","seg":"b25"},
{"pos":24.50197,"logp":0.5,"trait":"purple","seg":"p5"},{"pos":24.50229,"logp":1.97,"trait":"purple","seg":"p5"},
{"pos":24.50603,"logp":0.6,"trait":"blue","seg":"b26"},{"pos":24.50634,"logp":3.64,"trait":"blue","seg":"b26"},
{"pos":24.50852,"logp":1.0,"trait":"blue","seg":"b27"},{"pos":24.50876,"logp":0.97,"trait":"blue","seg":"b27"},{"pos":24.50899,"logp":0.22,"trait":"blue","seg":"b27"},{"pos":24.50928,"logp":0.3,"trait":"blue","seg":"b27"},{"pos":24.50959,"logp":0.03,"trait":"blue","seg":"b27"},
{"pos":24.51101,"logp":0.37,"trait":"purple","seg":"p6"},{"pos":24.51118,"logp":0.15,"trait":"purple","seg":"p6"},
{"pos":24.51274,"logp":0.45,"trait":"orange","seg":"o12"},{"pos":24.51279,"logp":0.52,"trait":"orange","seg":"o12"},{"pos":24.51296,"logp":0.35,"trait":"orange","seg":"o12"},
{"pos":24.51326,"logp":0.35,"trait":"blue","seg":"b28"},{"pos":24.51355,"logp":0.35,"trait":"blue","seg":"b28"},
{"pos":24.51475,"logp":8.0,"trait":"orange","seg":"o13"},{"pos":24.51483,"logp":25.0,"trait":"orange","seg":"o13"},{"pos":24.51504,"logp":29.0,"trait":"orange","seg":"o13"},{"pos":24.51521,"logp":29.4,"trait":"orange","seg":"o13"},{"pos":24.51527,"logp":28.7,"trait":"orange","seg":"o13"},
{"pos":24.51927,"logp":0.3,"trait":"orange","seg":"o14"},{"pos":24.5195,"logp":0.02,"trait":"orange","seg":"o14"},
{"pos":24.52055,"logp":0.17,"trait":"orange","seg":"o15"},{"pos":24.52078,"logp":0.32,"trait":"orange","seg":"o15"},{"pos":24.52102,"logp":0.32,"trait":"orange","seg":"o15"},
{"pos":24.52258,"logp":0.1,"trait":"orange","seg":"o16"},{"pos":24.52275,"logp":0.57,"trait":"orange","seg":"o16"},
{"pos":24.52579,"logp":0.3,"trait":"blue","seg":"b29"},{"pos":24.52595,"logp":0.5,"trait":"blue","seg":"b29"},{"pos":24.52607,"logp":0.8,"trait":"blue","seg":"b29"},
{"pos":24.5262,"logp":1.0,"trait":"orange","seg":"o17"},{"pos":24.52626,"logp":1.27,"trait":"orange","seg":"o17"},{"pos":24.52655,"logp":0.5,"trait":"orange","seg":"o17"},
{"pos":24.52707,"logp":0.07,"trait":"purple","seg":"p7"},{"pos":24.52726,"logp":0.7,"trait":"purple","seg":"p7"},
{"pos":24.52851,"logp":1.0,"trait":"blue","seg":"b30"},{"pos":24.52856,"logp":1.14,"trait":"blue","seg":"b30"},{"pos":24.5288,"logp":1.1,"trait":"blue","seg":"b30"},
{"pos":24.53324,"logp":0.3,"trait":"blue","seg":"b31"},{"pos":24.53343,"logp":1.3,"trait":"blue","seg":"b31"},{"pos":24.53355,"logp":1.6,"trait":"blue","seg":"b31"},
{"pos":24.53853,"logp":0.02,"trait":"blue","seg":"b32"},{"pos":24.53881,"logp":1.04,"trait":"blue","seg":"b32"},
{"pos":24.54002,"logp":0.13,"trait":"orange","seg":"o18"},{"pos":24.5403,"logp":0.63,"trait":"orange","seg":"o18"},
{"pos":24.54078,"logp":1.2,"trait":"blue","seg":"b33"},{"pos":24.54106,"logp":0.73,"trait":"blue","seg":"b33"},{"pos":24.54125,"logp":0.55,"trait":"blue","seg":"b33"},
{"pos":24.55572,"logp":11.5,"trait":"blue","seg":"b34"},{"pos":24.55579,"logp":9.0,"trait":"blue","seg":"b34"},{"pos":24.55603,"logp":2.24,"trait":"blue","seg":"b34"},
{"pos":24.55726,"logp":0.27,"trait":"blue","seg":"b35"},{"pos":24.55751,"logp":0.23,"trait":"blue","seg":"b35"},
{"pos":24.558,"logp":1.96,"trait":"blue","seg":"b36"},{"pos":24.55815,"logp":0.9,"trait":"blue","seg":"b36"},
{"pos":24.55849,"logp":0.2,"trait":"orange","seg":"o19"},{"pos":24.55869,"logp":0.23,"trait":"orange","seg":"o19"},
{"pos":24.55984,"logp":0.17,"trait":"blue","seg":"b37"},{"pos":24.56002,"logp":0.02,"trait":"blue","seg":"b37"},
{"pos":24.56778,"logp":0.5,"trait":"orange","seg":"o20"},{"pos":24.56803,"logp":0.02,"trait":"orange","seg":"o20"},
{"pos":24.57501,"logp":0.3,"trait":"blue","seg":"b38"},{"pos":24.57533,"logp":0.63,"trait":"blue","seg":"b38"},
{"pos":24.5765,"logp":1.05,"trait":"orange","seg":"o21"},{"pos":24.57656,"logp":1.18,"trait":"orange","seg":"o21"},{"pos":24.57673,"logp":0.3,"trait":"orange","seg":"o21"},
{"pos":24.57958,"logp":0.3,"trait":"orange","seg":"o22"},{"pos":24.57975,"logp":1.7,"trait":"orange","seg":"o22"},{"pos":24.58005,"logp":2.27,"trait":"orange","seg":"o22"},
{"pos":24.58258,"logp":0.17,"trait":"blue","seg":"b39"},{"pos":24.58278,"logp":1.38,"trait":"blue","seg":"b39"}
],
"snp": [{"pos": 24.4803, "logp": 4.1, "base": 0, "label": "rs6911965"}]
},
"layer": [
{
"data": {"name": "trace"},
"mark": {"type": "area", "color": "#E31A1C", "interpolate": "linear"},
"encoding": {
"x": {"field": "pos", "type": "quantitative",
"scale": {"domain": [24.388515, 24.59231], "nice": false, "zero": false},
"axis": {"values": [24.4, 24.425, 24.45, 24.475, 24.5, 24.525, 24.55, 24.575],
"labelExpr": "(round(datum.value*1000) % 50 == 0) ? format(datum.value, '.2f') : ''",
"grid": true,
"gridColor": {"condition": {"test": "round(datum.value*1000) % 50 == 0", "value": "#FFFFFF"}, "value": "#F2F2F2"},
"gridWidth": {"condition": {"test": "round(datum.value*1000) % 50 == 0", "value": 4.8}, "value": 2.4},
"tickColor": {"condition": {"test": "round(datum.value*1000) % 50 == 0", "value": "#7F7F7F"}, "value": "rgba(0,0,0,0)"},
"tickSize": 15, "tickWidth": 4.3, "domain": false,
"labelFont": "Liberation Sans", "labelFontSize": 34, "labelColor": "#7F7F7F", "labelPadding": 8, "labelOverlap": false, "labelFlush": false,
"title": "position (Mb)", "titleFont": "Liberation Sans", "titleFontSize": 44, "titleFontWeight": "normal", "titleColor": "#000000", "titlePadding": 6}},
"y": {"field": "logp", "type": "quantitative",
"scale": {"domain": [-2.09, 43.45], "nice": false, "zero": false},
"axis": {"values": [0, 5, 10, 15, 20, 25, 30, 35, 40],
"labelExpr": "(datum.value % 10 == 0) ? datum.label : ''",
"grid": true,
"gridColor": {"condition": {"test": "datum.value % 10 == 0", "value": "#FFFFFF"}, "value": "#F2F2F2"},
"gridWidth": {"condition": {"test": "datum.value % 10 == 0", "value": 4.8}, "value": 2.4},
"tickColor": {"condition": {"test": "datum.value % 10 == 0", "value": "#7F7F7F"}, "value": "rgba(0,0,0,0)"},
"tickSize": 16, "tickWidth": 4.3, "domain": false,
"labelFont": "Liberation Sans", "labelFontSize": 34, "labelColor": "#7F7F7F", "labelPadding": 11, "labelOverlap": false, "labelFlush": false,
"title": "-log₁₀(p)", "titleFont": "Liberation Sans", "titleFontSize": 44, "titleFontWeight": "normal", "titleColor": "#000000", "titlePadding": 16}},
"y2": {"datum": 0}
}
},
{
"data": {"name": "overlay"},
"mark": {"type": "area", "interpolate": "linear"},
"encoding": {
"x": {"field": "pos", "type": "quantitative"},
"y": {"field": "logp", "type": "quantitative", "stack": null},
"y2": {"datum": 0},
"color": {"field": "trait", "type": "nominal", "legend": null,
"scale": {"domain": ["blue", "orange", "purple", "green", "lightorange"], "range": ["#1F78B4", "#FF7F00", "#6A3D9A", "#33A02C", "#FDBF6F"]}},
"detail": {"field": "seg", "type": "nominal"}
}
},
{
"data": {"name": "snp"},
"mark": {"type": "rule", "color": "#000000", "strokeWidth": 6, "strokeDash": [14, 7]},
"encoding": {
"x": {"field": "pos", "type": "quantitative"},
"y": {"field": "logp", "type": "quantitative"},
"y2": {"field": "base"}
}
},
{
"data": {"name": "snp"},
"mark": {"type": "circle", "color": "#000000", "size": 260, "opacity": 1},
"encoding": {
"x": {"field": "pos", "type": "quantitative"},
"y": {"field": "base", "type": "quantitative"}
}
},
{
"data": {"name": "snp"},
"mark": {"type": "text", "font": "Liberation Sans", "fontSize": 41, "color": "#000000", "align": "center", "baseline": "middle", "dy": -44},
"encoding": {
"x": {"field": "pos", "type": "quantitative"},
"y": {"field": "logp", "type": "quantitative"},
"text": {"field": "label"}
}
}
]
}
